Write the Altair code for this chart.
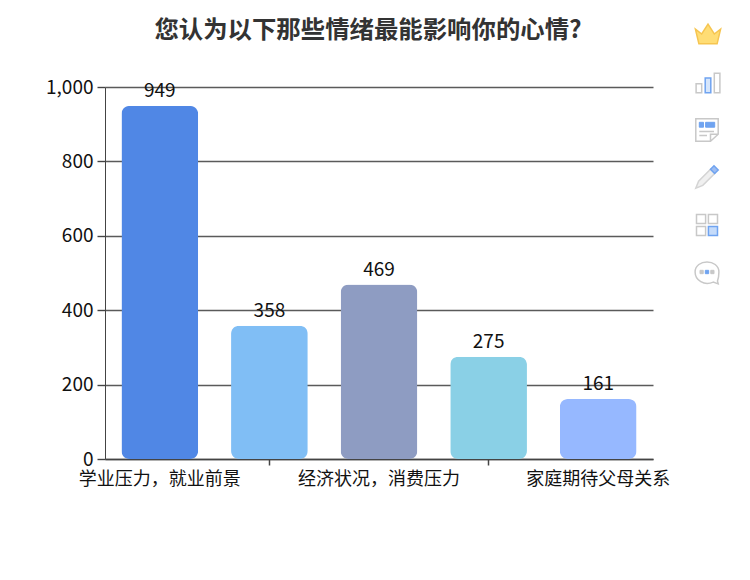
import altair as alt
import pandas as pd

FONT = "Noto Sans CJK SC"
title_text = "您认为以下那些情绪最能影响你的心情?"
categories = ["学业压力，就业前景", " ", "经济状况，消费压力", "  ", "家庭期待父母关系"]
values = [949, 358, 469, 275, 161]
colors = ["#5087E5", "#80BEF5", "#8E9CC2", "#8AD0E6", "#96B8FF"]
y_ticks = [0, 200, 400, 600, 800, 1000]

df = pd.DataFrame({"cat": categories, "val": values})

x = alt.X("cat:N", sort=categories, title=None,
          scale=alt.Scale(paddingInner=0.3, paddingOuter=0.15),
          axis=alt.Axis(labelAngle=0, labelFont=FONT, labelFontSize=18, labelColor="#111111",
                        labelPadding=5, labelLimit=300, labelOverlap=False,
                        tickSize=6, tickColor="#444444", domainColor="#444444", domainWidth=1.3,
                        tickWidth=1.5,
                        tickOpacity={"condition": {"test": "trim(datum.value) === ''", "value": 1}, "value": 0},
                        grid=False))
y = alt.Y("val:Q", title=None, scale=alt.Scale(domain=[0, 1000], nice=False),
          axis=alt.Axis(values=y_ticks, format=",d", labelFont=FONT, labelFontSize=19, labelColor="#111111",
                        labelPadding=4, tickSize=8, tickColor="#444444", domainColor="#444444",
                        gridColor="#5A5A5A", gridWidth=1.5, gridOpacity=1, tickWidth=1.4))

bars = alt.Chart(df).mark_bar(cornerRadius=8).encode(
    x=x, y=y,
    color=alt.Color("cat:N", sort=categories, legend=None,
                    scale=alt.Scale(domain=categories, range=colors)))
labels = alt.Chart(df).mark_text(dy=-15, font=FONT, fontSize=19, color="#111111").encode(
    x=alt.X("cat:N", sort=categories), y="val:Q", text="val:Q")
title = alt.Chart(alt.Data(values=[{"t": title_text}])).mark_text(
    font=FONT, fontSize=24.4, fontWeight="bold", color="#333333", align="center", baseline="middle"
).encode(x=alt.value(263), y=alt.value(-56), text="t:N")


def icon(path, px, py, size, fill="transparent", stroke="#C8C8C8", sw=1.5):
    return alt.Chart(alt.Data(values=[{"i": 0}])).mark_point(
        shape=path, size=size, fill=fill, stroke=stroke, strokeWidth=sw, opacity=1, filled=False
    ).encode(x=alt.value(px), y=alt.value(py))


X0 = 603  # toolbar column, relative to plot origin
Y0 = -87
BLUE = "#6FA3F0"
S = 784
rect = lambda a, b, c, d: f"M{a} {b}L{c} {b}L{c} {d}L{a} {d}Z"
icons = [
    icon("M-0.9 -0.35L-0.45 0L0 -0.7L0.45 0L0.9 -0.35L0.65 0.7L-0.65 0.7Z", X0, Y0 + 34, S, "#FFDD75", "#F6C550", 1.5),
    icon(rect(-0.85, 0.05, -0.45, 0.7) + rect(0.45, -0.7, 0.85, 0.7), X0, Y0 + 83, S),
    icon(rect(-0.2, -0.35, 0.2, 0.7), X0, Y0 + 83, S, "#D6E6FC", BLUE),
    icon("M-0.8 -0.8L0.8 -0.8L0.8 0.3L0.25 0.8L-0.8 0.8ZM0.8 0.3L0.25 0.3L0.25 0.8"
         "M-0.55 0.1L0.5 0.1M-0.55 0.4L0 0.4", X0 - 1, Y0 + 130, S),
    icon(rect(-0.55, -0.55, -0.25, -0.2) + rect(-0.1, -0.55, 0.55, -0.2), X0 - 1, Y0 + 130, S, BLUE, BLUE, 1),
    icon("M0.25 -0.55L-0.6 0.3L-0.8 0.8L-0.3 0.6L0.55 -0.25Z", X0 - 1, Y0 + 177, S, "#F0F0F0", "#D4D4D4"),
    icon("M0.25 -0.55L0.5 -0.8L0.8 -0.5L0.55 -0.25Z", X0 - 1, Y0 + 177, S, "#9DBDF2", BLUE),
    icon(rect(-0.75, -0.75, -0.1, -0.1) + rect(0.1, -0.75, 0.75, -0.1) + rect(-0.75, 0.1, -0.1, 0.75), X0 - 1, Y0 + 225, S),
    icon(rect(0.1, 0.1, 0.75, 0.75), X0 - 1, Y0 + 225, S, "#C5DBFA", BLUE),
    icon("M0.75 0.65L0.8 0.85L0.45 0.72C-0.2 1 -0.85 0.6 -0.85 0C-0.85 -0.95 0.85 -0.95 0.85 0C0.85 0.3 0.8 0.5 0.75 0.65Z", X0 - 1, Y0 + 272, S),
    icon(rect(-0.5, -0.12, -0.27, 0.12) + rect(0.27, -0.12, 0.5, 0.12), X0 - 1, Y0 + 272, S, "#C8C8C8", "#C8C8C8", 1),
    icon(rect(-0.12, -0.12, 0.12, 0.12), X0 - 1, Y0 + 272, S, BLUE, BLUE, 1),
]

chart = alt.layer(bars, labels, title, *icons).properties(
    width=548, height=372,
    autosize=alt.AutoSizeParams(type="none"),
    padding={"left": 97, "top": 79, "right": 80, "bottom": 50},
).configure_view(stroke=None).configure_axisY(grid=True)

chart.save("out.html", embed_options={"renderer": "svg", "actions": False})
